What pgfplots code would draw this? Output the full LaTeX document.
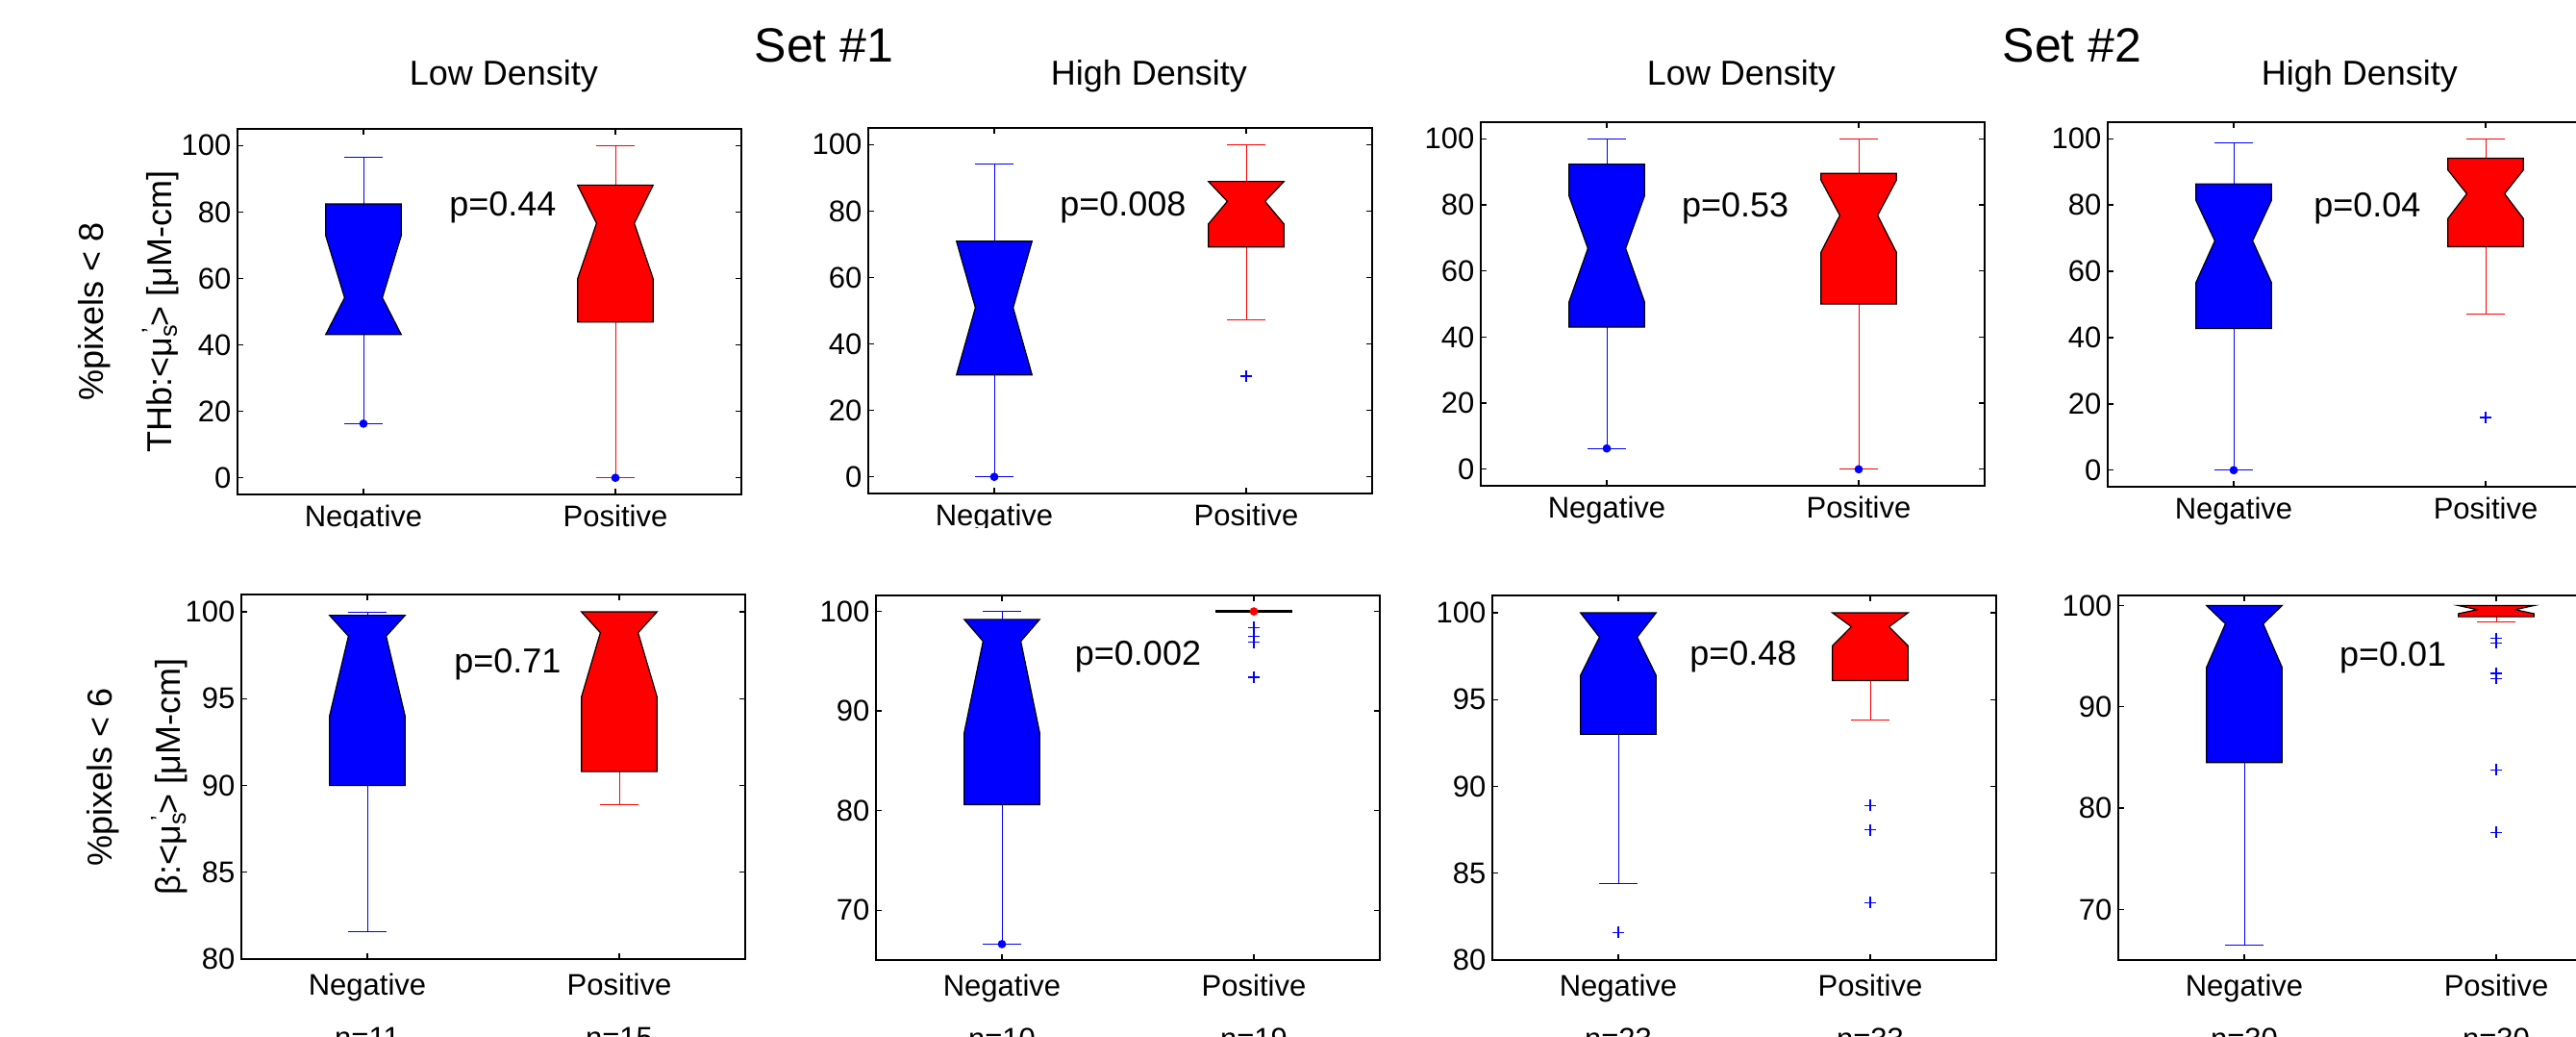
\documentclass[border=0pt]{standalone}
\usepackage{pgfplots}
\pgfplotsset{compat=1.18}
\usepackage{fontspec}
\setmainfont{Liberation Sans}
\newcommand{\fa}{\fontsize{9.3bp}{11bp}\selectfont}
\newcommand{\fb}{\fontsize{10.8bp}{13bp}\selectfont}
\newcommand{\fc}{\fontsize{15bp}{18bp}\selectfont}
\newcommand{\mus}{μ\rlap{\textsubscript{s}}\textsuperscript{\kern0.15em'}}

\pgfplotsset{
  bx/.style={
    overlay,
    anchor=north west, scale only axis, width=157.2bp,
    xmin=0.5, xmax=2.5, xtick={1,2}, xticklabels={Negative,Positive},
    tick align=inside, tick pos=both, major tick length=1.8bp,
    axis line style={line width=0.55bp},
    tick style={black, line width=0.4bp},
    tick label style={font=\fa},
    /pgf/number format/assume math mode=true,
    yticklabel style={inner sep=0pt, xshift=-1.8bp},
    xticklabel style={anchor=base, yshift=-10bp},
    title style={font=\fb, at={(0.5,1)}, anchor=base},
    unbounded coords=jump, clip=false,
  },
  nbox/.style={fill=blue, draw=black, line width=0.35bp},
  pbox/.style={fill=red, draw=black, line width=0.35bp},
  nw/.style={blue, line width=0.3bp},
  pw/.style={red, line width=0.3bp},
  mdot/.style={only marks, mark=*, mark size=1.1bp, blue},
  mout/.style={only marks, mark=+, mark size=1.8bp, blue, mark options={line width=0.35bp}},
}
\tikzset{pval/.style={anchor=base, font=\fb}}

\begin{document}
\begin{tikzpicture}
\useasboundingbox[fill=white] (0,0) rectangle (803.7bp,-323.1bp);

% ---------------- top row: THb ----------------
\begin{axis}[bx, at={(74.1bp,-40.2bp)}, height=114bp,
  ymin=-5, ymax=105, ytick={0,20,...,100},
  title={Low Density}, title style={yshift=7.8bp, xshift=4.5bp}]
  \addplot[nw] coordinates {(1,82.4) (1,96.6) (1,nan) (0.925,96.6) (1.075,96.6) (1,nan)
    (1,43.1) (1,16.3) (1,nan) (0.925,16.3) (1.075,16.3)};
  \addplot[pw] coordinates {(2,88.1) (2,100) (2,nan) (1.925,100) (2.075,100) (2,nan)
    (2,46.9) (2,0) (2,nan) (1.925,0) (2.075,0)};
  \addplot[nbox] coordinates {(0.85,43.1) (0.925,54.2) (0.85,72.9) (0.85,82.4)
    (1.15,82.4) (1.15,72.9) (1.075,54.2) (1.15,43.1)} --cycle;
  \addplot[pbox] coordinates {(1.85,46.9) (1.85,59.9) (1.925,76.6) (1.85,88.1)
    (2.15,88.1) (2.075,76.6) (2.15,59.9) (2.15,46.9)} --cycle;
  \addplot[mdot] coordinates {(1,16.3) (2,0)};
  \node[pval] at (axis cs:1.553,78.8) {p=0.44};
  \node[rotate=90, font=\fb] at (rel axis cs:-0.284,0.5) {\%pixels < 8};
  \node[rotate=90, font=\fb] at (rel axis cs:-0.153,0.5) {THb:<\mus> [μM-cm]};
\end{axis}

\begin{axis}[bx, at={(270.9bp,-39.9bp)}, height=114bp,
  ymin=-5, ymax=105, ytick={0,20,...,100},
  title={High Density}, title style={yshift=7.5bp, xshift=9bp}]
  \addplot[nw] coordinates {(1,70.9) (1,94.1) (1,nan) (0.925,94.1) (1.075,94.1) (1,nan)
    (1,30.7) (1,0) (1,nan) (0.925,0) (1.075,0)};
  \addplot[pw] coordinates {(2,88.9) (2,100) (2,nan) (1.925,100) (2.075,100) (2,nan)
    (2,69.2) (2,47.3) (2,nan) (1.925,47.3) (2.075,47.3)};
  \addplot[nbox] coordinates {(0.85,30.7) (0.925,50.9) (0.85,70.9)
    (1.15,70.9) (1.075,50.9) (1.15,30.7)} --cycle;
  \addplot[pbox] coordinates {(1.85,69.2) (1.85,76.1) (1.925,82.9) (1.85,88.9)
    (2.15,88.9) (2.075,82.9) (2.15,76.1) (2.15,69.2)} --cycle;
  \addplot[mdot] coordinates {(1,0)};
  \addplot[mout] coordinates {(2,30.3)};
  \node[pval] at (axis cs:1.511,78.6) {p=0.008};
\end{axis}

\begin{axis}[bx, at={(462bp,-38.1bp)}, height=113.4bp,
  ymin=-5, ymax=105, ytick={0,20,...,100},
  title={Low Density}, title style={yshift=5.7bp, xshift=2.7bp}]
  \addplot[nw] coordinates {(1,92.3) (1,100) (1,nan) (0.925,100) (1.075,100) (1,nan)
    (1,43.0) (1,6.3) (1,nan) (0.925,6.3) (1.075,6.3)};
  \addplot[pw] coordinates {(2,89.5) (2,100) (2,nan) (1.925,100) (2.075,100) (2,nan)
    (2,50.0) (2,0) (2,nan) (1.925,0) (2.075,0)};
  \addplot[nbox] coordinates {(0.85,43.0) (0.85,50.6) (0.925,66.8) (0.85,82.7) (0.85,92.3)
    (1.15,92.3) (1.15,82.7) (1.075,66.8) (1.15,50.6) (1.15,43.0)} --cycle;
  \addplot[pbox] coordinates {(1.85,50.0) (1.85,65.6) (1.925,76.8) (1.85,87.5) (1.85,89.5)
    (2.15,89.5) (2.15,87.5) (2.075,76.8) (2.15,65.6) (2.15,50.0)} --cycle;
  \addplot[mdot] coordinates {(1,6.3) (2,0)};
  \node[pval] at (axis cs:1.51,76.2) {p=0.53};
\end{axis}

\begin{axis}[bx, at={(657.6bp,-38.1bp)}, height=113.7bp,
  ymin=-5, ymax=105, ytick={0,20,...,100},
  title={High Density}, title style={yshift=5.7bp}]
  \addplot[nw] coordinates {(1,86.4) (1,98.8) (1,nan) (0.925,98.8) (1.075,98.8) (1,nan)
    (1,42.7) (1,0) (1,nan) (0.925,0) (1.075,0)};
  \addplot[pw] coordinates {(2,94.1) (2,100) (2,nan) (1.925,100) (2.075,100) (2,nan)
    (2,67.4) (2,47.2) (2,nan) (1.925,47.2) (2.075,47.2)};
  \addplot[nbox] coordinates {(0.85,42.7) (0.85,56.6) (0.925,69.2) (0.85,81.4) (0.85,86.4)
    (1.15,86.4) (1.15,81.4) (1.075,69.2) (1.15,56.6) (1.15,42.7)} --cycle;
  \addplot[pbox] coordinates {(1.85,67.4) (1.85,75.9) (1.925,83.4) (1.85,90.6) (1.85,94.1)
    (2.15,94.1) (2.15,90.6) (2.075,83.4) (2.15,75.9) (2.15,67.4)} --cycle;
  \addplot[mdot] coordinates {(1,0)};
  \addplot[mout] coordinates {(2,15.9)};
  \node[pval] at (axis cs:1.53,76.3) {p=0.04};
\end{axis}

\node[anchor=base, font=\fc] at (257.1bp,-19.2bp) {Set \#1};
\node[anchor=base, font=\fc] at (646.5bp,-19.2bp) {Set \#2};

% the lower row covers the foot of the upper tick labels
\fill[white, overlay] (0,-164.7bp) rectangle (803.7bp,-330bp);

% ---------------- bottom row: beta ----------------
\begin{axis}[bx, at={(75.3bp,-185.4bp)}, height=113.7bp,
  ymin=80, ymax=101, ytick={80,85,...,100},
  xticklabel style={yshift=-1.1bp}]
  \addplot[nw] coordinates {(1,99.8) (1,100) (1,nan) (0.925,100) (1.075,100) (1,nan)
    (1,90.0) (1,81.6) (1,nan) (0.925,81.6) (1.075,81.6)};
  \addplot[pw] coordinates {(2,90.8) (2,88.9) (2,nan) (1.925,88.9) (2.075,88.9)};
  \addplot[nbox] coordinates {(0.85,90.0) (0.85,94.0) (0.925,98.6) (0.85,99.8)
    (1.15,99.8) (1.075,98.6) (1.15,94.0) (1.15,90.0)} --cycle;
  \addplot[pbox] coordinates {(1.85,90.8) (1.85,95.1) (1.925,98.8) (1.85,100)
    (2.15,100) (2.075,98.8) (2.15,95.1) (2.15,90.8)} --cycle;
  \node[pval] at (axis cs:1.557,96.5) {p=0.71};
  \node[rotate=90, font=\fb] at (rel axis cs:-0.275,0.5) {\%pixels < 6};
  \node[rotate=90, font=\fb] at (rel axis cs:-0.143,0.5) {β:<\mus> [μM-cm]};
  \node[anchor=base, font=\fa, yshift=-27.6bp] at (rel axis cs:0.25,0) {n=11};
  \node[anchor=base, font=\fa, yshift=-27.6bp] at (rel axis cs:0.75,0) {n=15};
\end{axis}

\begin{axis}[bx, at={(273.3bp,-185.7bp)}, height=113.7bp,
  ymin=65, ymax=101.6, ytick={70,80,...,100},
  xticklabel style={yshift=-1.1bp}]
  \addplot[nw] coordinates {(1,99.2) (1,100) (1,nan) (0.925,100) (1.075,100) (1,nan)
    (1,80.6) (1,66.6) (1,nan) (0.925,66.6) (1.075,66.6)};
  \addplot[nbox] coordinates {(0.85,80.6) (0.85,87.8) (0.925,97.0) (0.85,99.2)
    (1.15,99.2) (1.075,97.0) (1.15,87.8) (1.15,80.6)} --cycle;
  \addplot[pbox] coordinates {(1.85,99.95) (1.85,100.05) (2.15,100.05) (2.15,99.95)} --cycle;
  \addplot[mdot] coordinates {(1,66.6)};
  \addplot[mdot, red] coordinates {(2,100)};
  \addplot[mout] coordinates {(2,98.4) (2,97.5) (2,96.9) (2,93.4)};
  \node[pval] at (axis cs:1.54,94.6) {p=0.002};
  \node[anchor=base, font=\fa, yshift=-27.6bp] at (rel axis cs:0.25,0) {n=10};
  \node[anchor=base, font=\fa, yshift=-27.6bp] at (rel axis cs:0.75,0) {n=19};
\end{axis}

\begin{axis}[bx, at={(465.6bp,-185.7bp)}, height=113.7bp,
  ymin=80, ymax=101, ytick={80,85,...,100},
  xticklabel style={yshift=-1.1bp}]
  \addplot[nw] coordinates {(1,93.0) (1,84.4) (1,nan) (0.925,84.4) (1.075,84.4)};
  \addplot[pw] coordinates {(2,96.1) (2,93.8) (2,nan) (1.925,93.8) (2.075,93.8)};
  \addplot[nbox] coordinates {(0.85,93.0) (0.85,96.4) (0.925,98.6) (0.85,100)
    (1.15,100) (1.075,98.6) (1.15,96.4) (1.15,93.0)} --cycle;
  \addplot[pbox] coordinates {(1.85,96.1) (1.85,98.1) (1.925,99.2) (1.85,100)
    (2.15,100) (2.075,99.2) (2.15,98.1) (2.15,96.1)} --cycle;
  \addplot[mout] coordinates {(1,81.6) (2,88.9) (2,87.5) (2,83.3)};
  \node[pval] at (axis cs:1.496,97.0) {p=0.48};
  \node[anchor=base, font=\fa, yshift=-27.6bp] at (rel axis cs:0.25,0) {n=23};
  \node[anchor=base, font=\fa, yshift=-27.6bp] at (rel axis cs:0.75,0) {n=33};
\end{axis}

\begin{axis}[bx, at={(660.9bp,-185.7bp)}, height=113.7bp,
  ymin=65, ymax=101, ytick={70,80,...,100},
  xticklabel style={yshift=-1.1bp}]
  \addplot[nw] coordinates {(1,84.5) (1,66.5) (1,nan) (0.925,66.5) (1.075,66.5)};
  \addplot[pw] coordinates {(2,98.9) (2,98.4) (2,nan) (1.925,98.4) (2.075,98.4)};
  \addplot[nbox] coordinates {(0.85,84.5) (0.85,93.9) (0.925,98.2) (0.85,100)
    (1.15,100) (1.075,98.2) (1.15,93.9) (1.15,84.5)} --cycle;
  \addplot[pbox] coordinates {(1.85,98.9) (1.85,99.2) (1.925,99.6) (1.85,100)
    (2.15,100) (2.075,99.6) (2.15,99.2) (2.15,98.9)} --cycle;
  \addplot[mout] coordinates {(2,96.75) (2,96.3) (2,93.3) (2,92.8) (2,83.8) (2,77.6)};
  \node[pval] at (axis cs:1.59,94.05) {p=0.01};
  \node[anchor=base, font=\fa, yshift=-27.6bp] at (rel axis cs:0.25,0) {n=30};
  \node[anchor=base, font=\fa, yshift=-27.6bp] at (rel axis cs:0.75,0) {n=30};
\end{axis}
\end{tikzpicture}
\end{document}
